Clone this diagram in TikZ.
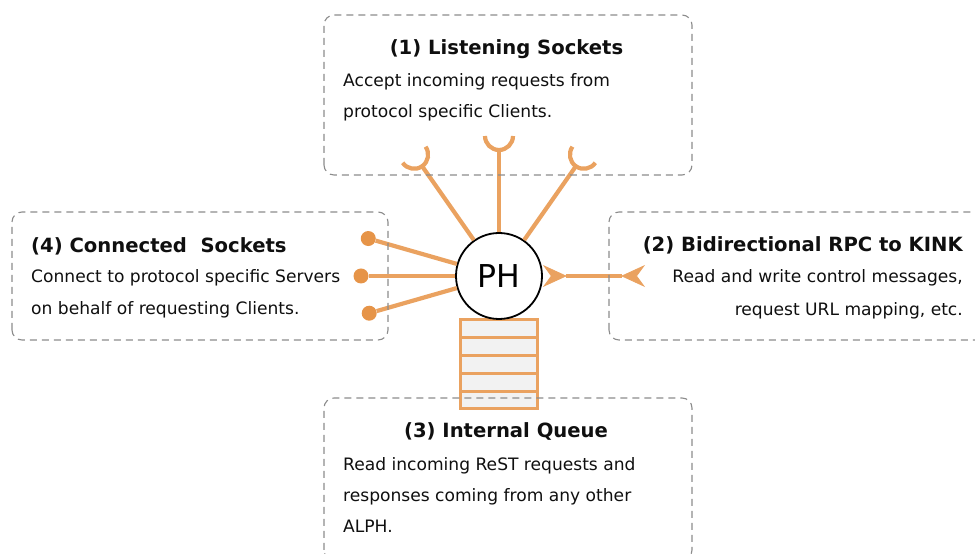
\documentclass[tikz,border=0pt]{standalone}
\usepackage{fontspec}
\setmainfont{DejaVu Sans}
\usetikzlibrary{arrows.meta,calc}

\definecolor{sockline}{RGB}{234,162,96}
\definecolor{sockdot}{RGB}{230,148,72}
\definecolor{boxline}{RGB}{140,140,140}
\definecolor{queuefill}{RGB}{242,242,242}
\definecolor{ink}{RGB}{15,15,15}

\tikzset{
  panel/.style={draw=boxline, line width=1.1pt, dash pattern=on 7pt off 5pt, rounded corners=10pt},
  heading/.style={font=\fontsize{19.6}{23}\selectfont\bfseries, text=ink, inner sep=0pt},
  body/.style={font=\fontsize{17.1}{20}\selectfont, text=ink, inner sep=0pt},
  wire/.style={draw=sockline, line width=4.2pt},
  plug/.style={circle, fill=sockdot, minimum size=15pt, inner sep=0pt},
  queuecell/.style={draw=sockline, fill=queuefill, line width=3pt},
  rpctip/.tip={Stealth[reversed, length=24pt, width=22pt, inset=8pt, line width=0.8pt]}
}

\begin{document}
\begin{tikzpicture}[x=1pt,y=1pt]
\useasboundingbox (0,0) rectangle (975,554);

% message queue below the handler
\foreach \k in {0,...,4}
  \draw[queuecell] (460,145+\k*17.8) rectangle ++(77,17.8);

% protocol handler
\node[circle, draw=black, fill=white, line width=1.8pt, minimum size=86pt, inner sep=0pt,
      font=\fontsize{31.5}{36}\selectfont] (ph) at (499,278) {PH};

% listening sockets (cups)
\foreach \a/\d [count=\i] in {125/134, 90/126, 55/134} {
  \coordinate (cup\i) at ($(ph.center)+(\a:\d)$);
  \draw[wire] (ph.\a) -- (cup\i);
  \draw[wire] ($(ph.center)+(\a:\d+14)+(\a+90:14)$)
    arc[start angle=\a+90, end angle=\a+270, radius=14];
}

% connected sockets (plugs)
\foreach \a/\d [count=\i] in {164/136, 180/138, 196/135} {
  \node[plug] (dot\i) at ($(ph.center)+(\a:\d)$) {};
  \draw[wire] (ph.\a) -- (dot\i);
}

% bidirectional RPC link
\coordinate (rpc) at (645,278);
\draw[wire, rpctip-rpctip] (ph.east) -- (rpc);

% (1) listening sockets
\node[heading, anchor=base] (t1) at (506.5,499) {(1) Listening Sockets};
\node[body, anchor=base west] (t1a) at (343,467) {Accept incoming requests from};
\node[body, anchor=base west] (t1b) at (343,436) {protocol specific Clients.};

% (2) RPC to KINK
\node[heading, anchor=base east] (t2) at (963,302) {(2) Bidirectional RPC to KINK};
\node[body, anchor=base east] (t2a) at (963,271) {Read and write control messages,};
\node[body, anchor=base east] (t2b) at (963,238) {request URL mapping, etc.};

% (3) internal queue
\node[heading, anchor=base] (t3) at (506,116) {(3) Internal Queue};
\node[body, anchor=base west] (t3a) at (343,83) {Read incoming ReST requests and};
\node[body, anchor=base west] (t3b) at (343,52) {responses coming from any other};
\node[body, anchor=base west] (t3c) at (343,21) {ALPH.};

% (4) connected sockets
\node[heading, anchor=base west] (t4) at (31,301) {(4) Connected\ \ Sockets};
\node[body, anchor=base west] (t4a) at (31,271) {Connect to protocol specific Servers};
\node[body, anchor=base west] (t4b) at (31,239) {on behalf of requesting Clients.};

% dashed panels
\draw[panel] (324,379) rectangle (692,539);
\draw[panel] (12,214) rectangle (388,342);
\draw[panel] (609,214) rectangle (990,342);
\draw[panel] (324,-6) rectangle (692,156);
\end{tikzpicture}
\end{document}
